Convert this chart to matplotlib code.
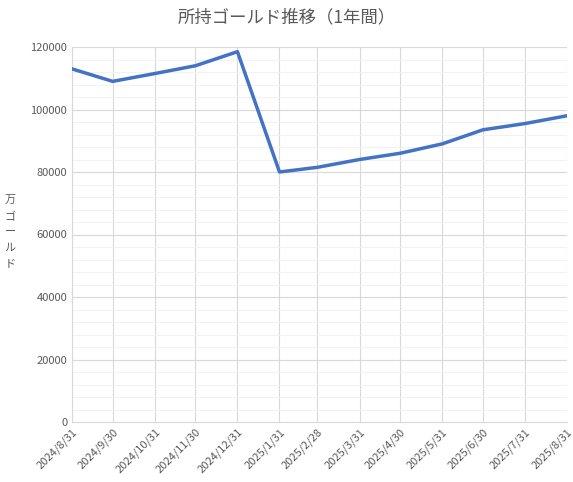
import matplotlib
matplotlib.use("Agg")
import matplotlib.pyplot as plt
import matplotlib.dates as mdates
import pandas as pd
from matplotlib.ticker import MultipleLocator

plt.rcParams['font.family'] = ['Noto Sans CJK JP', 'DejaVu Sans']

dates = ["2024-08-31","2024-09-30","2024-10-31","2024-11-30","2024-12-31","2025-01-31",
         "2025-02-28","2025-03-31","2025-04-30","2025-05-31","2025-06-30","2025-07-31","2025-08-31"]
labels = ["2024/8/31","2024/9/30","2024/10/31","2024/11/30","2024/12/31","2025/1/31",
          "2025/2/28","2025/3/31","2025/4/30","2025/5/31","2025/6/30","2025/7/31","2025/8/31"]
gold = [113000,109000,111500,114000,118500,80000,81500,84000,86000,89000,93500,95500,98000]

x = pd.to_datetime(dates)
fig = plt.figure(figsize=(5.73,4.82), dpi=100)
ax = fig.add_axes([72/573, 1-422/482, (567-72)/573, (422-47)/482])
ax.plot(x, gold, color='#4472C4', lw=2.5, zorder=3)
ax.set_xlim(x[0], x[-1])
ax.set_ylim(0, 120000)
ax.set_xticks(x)
ax.set_xticklabels(labels, rotation=45, ha='right', rotation_mode='anchor', fontsize=8, color='#595959')
ax.yaxis.set_major_locator(MultipleLocator(20000))
ax.yaxis.set_minor_locator(MultipleLocator(4000))
ax.tick_params(axis='y', labelsize=8, colors='#595959', length=0, which='both')
ax.tick_params(axis='x', length=0)
ax.grid(which='major', color='#D9D9D9', lw=0.8)
ax.grid(which='minor', axis='y', color='#F2F2F2', lw=0.8)
for s in ['top','right']:
    ax.spines[s].set_visible(False)
for s in ['left','bottom']:
    ax.spines[s].set_color('#D9D9D9')
fig.text(0.5, 1-17/482, "所持ゴールド推移（1年間）", ha='center', va='center', fontsize=12.5, color='#595959')
fig.text(10/573, 1-232/482, "万\nゴ\nー\nル\nド", ha='center', va='center', fontsize=8, color='#595959', linespacing=1.75)
fig.savefig("out.png", dpi=100)
